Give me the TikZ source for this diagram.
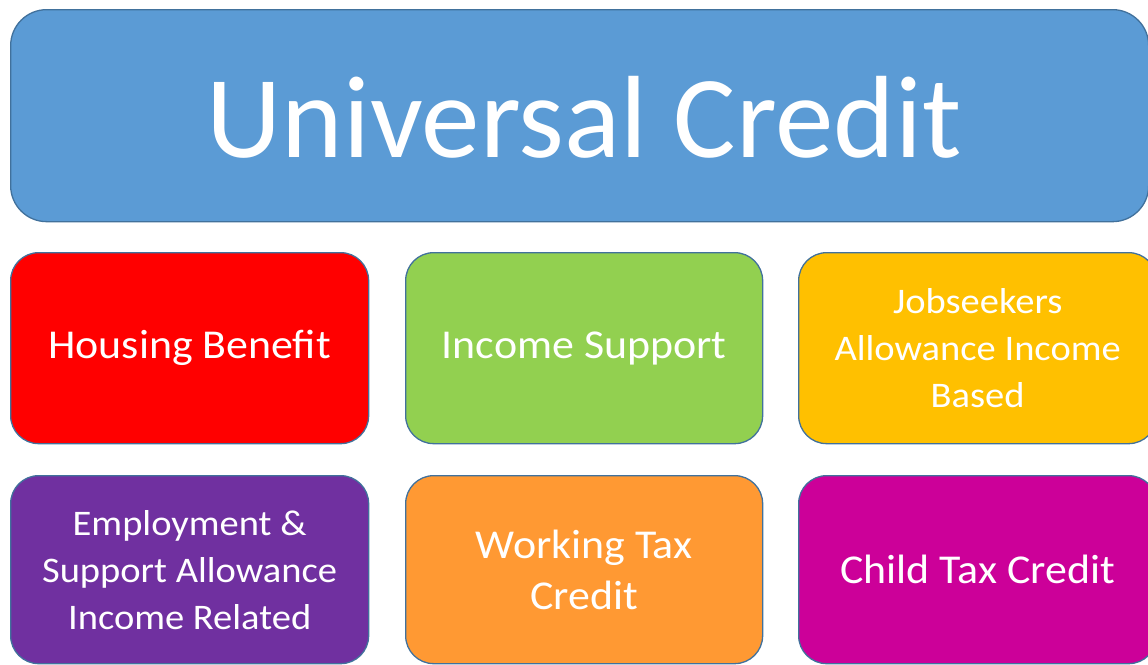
\documentclass[tikz,border=0pt]{standalone}
\usepackage{fontspec}
\setmainfont{Carlito}
\newfontfamily\boxfont[FakeStretch=1.07]{Carlito}
\newfontfamily\boxfontb[FakeStretch=1.07]{Carlito}
\definecolor{ucblue}{HTML}{5B9BD5}
\definecolor{edgeblue}{HTML}{41719C}
\definecolor{hbred}{HTML}{FF0000}
\definecolor{isgreen}{HTML}{92D050}
\definecolor{jsayellow}{HTML}{FFC000}
\definecolor{esapurple}{HTML}{7030A0}
\definecolor{wtcorange}{HTML}{FF9933}
\definecolor{ctcmagenta}{HTML}{CC0099}
\tikzset{
  benefit/.style={draw=edgeblue, line width=1.3pt, rounded corners=28pt, text=white,
    minimum width=358pt, minimum height=191pt, align=center, inner sep=0pt,
    font=\boxfont\fontsize{41}{51}\selectfont},
  threeline/.style={font=\boxfontb\fontsize{36}{47}\selectfont},
  title/.style={draw=edgeblue, line width=1.3pt, fill=ucblue, rounded corners=36pt,
    minimum width=1138pt, minimum height=212pt, inner sep=0pt},
  titletext/.style={text=white, font=\fontsize{117}{130}\selectfont}
}
\begin{document}
\begin{tikzpicture}[x=1pt,y=-1pt]
\useasboundingbox (0,0) rectangle (1148,664);
\node[title, anchor=north west] (uc) at (10,9) {};
\node[titletext] (uct) at (584,117) {Universal Credit};
\node[benefit, fill=hbred, anchor=north west] (hb) at (10,252) {Housing Benefit};
\node[benefit, fill=isgreen, anchor=north west, minimum width=357pt] (is) at (405,252) {Income Support};
\node[benefit, threeline, fill=jsayellow, anchor=north west] (jsa) at (798,252) {Jobseekers\\Allowance Income\\Based};
\node[benefit, threeline, fill=esapurple, anchor=north west, minimum height=188pt] (esa) at (10,475) {Employment \&\\Support Allowance\\Income Related};
\node[benefit, fill=wtcorange, anchor=north west, minimum width=357pt, minimum height=188pt] (wtc) at (405,475) {Working Tax\\Credit};
\node[benefit, fill=ctcmagenta, anchor=north west, minimum height=188pt] (ctc) at (798,475) {Child Tax Credit};
\end{tikzpicture}
\end{document}
